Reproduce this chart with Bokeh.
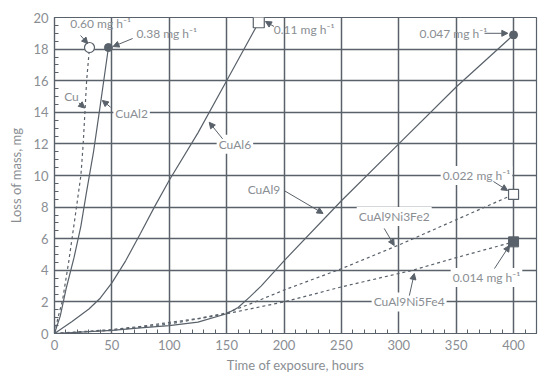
from bokeh.plotting import figure
from bokeh.models import Range1d, FixedTicker, Label, Arrow, NormalHead
from bokeh.embed import file_html
from bokeh.resources import INLINE

# Mass loss (mg) versus exposure time (hours)
cu_t = [0, 3, 7, 12.5, 18, 23, 25, 26.5, 28, 30.5]
cu_m = [0, 1.0, 2.1, 4.6, 7.4, 10.0, 12.0, 14.0, 16.0, 18.1]

cual2_t = [0, 5, 10, 17, 23, 28, 34, 40, 47]
cual2_m = [0, 1.1, 2.8, 4.8, 6.8, 9.0, 11.5, 14.5, 18.1]

cual6_t = [0, 15, 30, 40, 50, 62, 75, 87, 100, 125, 150, 178]
cual6_m = [0, 0.75, 1.55, 2.25, 3.2, 4.6, 6.35, 8.0, 9.7, 12.7, 16.0, 19.7]

cual9_t = [0, 50, 75, 100, 125, 150, 160, 170, 180, 200, 250, 300, 350, 400]
cual9_m = [0, 0.2, 0.35, 0.5, 0.72, 1.25, 1.65, 2.3, 3.0, 4.6, 8.4, 12.0,
           15.6, 18.9]

ni3fe2_t = [0, 50, 75, 100, 125, 150, 175, 200, 250, 300, 350, 400]
ni3fe2_m = [0, 0.25, 0.45, 0.7, 0.95, 1.3, 2.0, 2.75, 4.1, 5.6, 7.2, 8.8]

ni5fe4_t = [0, 50, 100, 150, 200, 250, 312, 350, 400]
ni5fe4_m = [0, 0.2, 0.6, 1.25, 2.0, 2.95, 4.0, 4.8, 5.8]

x_ticks = list(range(0, 401, 50))
y_ticks = list(range(0, 21, 2))

INK = "#59616a"
TXT = "#8a8e93"
FONT = "Lato"

p = figure(width=557, height=379, output_backend="svg", toolbar_location=None,
           x_range=Range1d(0, 420), y_range=Range1d(0, 20),
           min_border_left=54, min_border_right=21, min_border_top=17,
           min_border_bottom=46)
p.background_fill_color = "white"
p.border_fill_color = "white"
p.outline_line_color = INK
p.outline_line_width = 1.2

p.xaxis.ticker = FixedTicker(ticks=x_ticks, minor_ticks=list(range(0, 421, 10)))
p.yaxis.ticker = FixedTicker(ticks=y_ticks,
                             minor_ticks=[i * 0.5 for i in range(0, 41)])
for ax in (p.xaxis[0], p.yaxis[0]):
    ax.axis_line_color = INK
    ax.axis_line_width = 1.2
    ax.major_tick_line_color = INK
    ax.major_tick_in = 4
    ax.major_tick_out = 0
    ax.minor_tick_line_color = INK
    ax.minor_tick_in = 4
    ax.minor_tick_out = 0
    ax.major_label_text_color = TXT
    ax.major_label_text_font = FONT
    ax.major_label_text_font_size = "13px"
    ax.axis_label_text_color = TXT
    ax.axis_label_text_font = FONT
    ax.axis_label_text_font_size = "13px"
    ax.axis_label_text_font_style = "normal"
p.xaxis.axis_label = "Time of exposure, hours"
p.yaxis.axis_label = "Loss of mass, mg"
p.xaxis.major_label_standoff = 6
p.yaxis.major_label_standoff = 6
p.xaxis.axis_label_standoff = 4
p.yaxis.axis_label_standoff = 6

p.grid.grid_line_color = INK
p.grid.grid_line_width = 1.5
p.grid.grid_line_alpha = 1.0

# Curves
p.line(cu_t, cu_m, color=INK, line_width=1.2, line_dash="3 3")
p.line(cual2_t, cual2_m, color=INK, line_width=1.2)
p.line(cual6_t, cual6_m, color=INK, line_width=1.2)
p.line(cual9_t, cual9_m, color=INK, line_width=1.2)
p.line(ni3fe2_t, ni3fe2_m, color=INK, line_width=1.2, line_dash="3 3")
p.line(ni5fe4_t, ni5fe4_m, color=INK, line_width=1.2, line_dash="3 3")

# End markers
p.scatter([cu_t[-1]], [cu_m[-1]], marker="circle", size=10,
          fill_color="white", line_color=INK, line_width=1.2)
p.scatter([cual2_t[-1]], [cual2_m[-1]], marker="circle", size=8,
          fill_color=INK, line_color=INK)
p.scatter([cual6_t[-1]], [cual6_m[-1]], marker="square", size=11,
          fill_color="white", line_color=INK, line_width=1.2)
p.scatter([cual9_t[-1]], [cual9_m[-1]], marker="circle", size=8,
          fill_color=INK, line_color=INK)
p.scatter([ni3fe2_t[-1]], [ni3fe2_m[-1]], marker="square", size=10,
          fill_color="white", line_color=INK, line_width=1.2)
p.scatter([ni5fe4_t[-1]], [ni5fe4_m[-1]], marker="square", size=10,
          fill_color=INK, line_color=INK)

# Callout labels: (text, x, y, masks grid)
callouts = [
    ("0.60 mg h\u207b\u00b9", 40.2, 19.62, False),
    ("0.38 mg h\u207b\u00b9", 97.8, 18.99, False),
    ("Cu", 14.8, 15.0, False),
    ("CuAl2", 67.2, 13.95, True),
    ("CuAl6", 157.2, 11.97, True),
    ("0.11 mg h\u207b\u00b9", 217.5, 19.24, False),
    ("0.047 mg h\u207b\u00b9", 347.6, 19.0, False),
    ("0.022 mg h\u207b\u00b9", 367.7, 10.0, True),
    ("CuAl9", 182.5, 9.1, False),
    ("CuAl9Ni3Fe2", 296.0, 7.4, True),
    ("CuAl9Ni5Fe4", 309.0, 2.0, True),
    ("0.014 mg h\u207b\u00b9", 376.4, 3.54, True),
]
for text, lx, ly, mask in callouts:
    lab = Label(x=lx, y=ly, text=text, text_align="center",
                text_baseline="middle", text_color=TXT, text_font=FONT,
                text_font_size="12px")
    if mask:
        lab.background_fill_color = "white"
        lab.padding = 2
    p.add_layout(lab)

# Leader arrows: (x_start, y_start, x_end, y_end)
leaders = [
    (22.7, 18.86, 29.0, 18.35),
    (68.1, 18.67, 51.0, 18.16),
    (21.2, 14.6, 26.3, 14.27),
    (48.9, 14.32, 41.7, 14.75),
    (146.5, 12.32, 134.8, 13.37),
    (191.3, 19.43, 183.8, 19.75),
    (374.7, 19.0, 395.0, 19.0),
    (382.5, 9.62, 394.8, 9.05),
    (200.0, 9.05, 234.0, 7.6),
    (287.3, 6.65, 296.0, 5.57),
    (309.2, 2.4, 313.5, 3.8),
    (383.4, 4.11, 396.5, 5.57),
]
for x0, y0, x1, y1 in leaders:
    p.add_layout(Arrow(x_start=x0, y_start=y0, x_end=x1, y_end=y1,
                       line_color=INK, line_width=1,
                       end=NormalHead(size=6, fill_color=INK,
                                      line_color=INK)))

open("out.html", "w").write(file_html(p, INLINE))
